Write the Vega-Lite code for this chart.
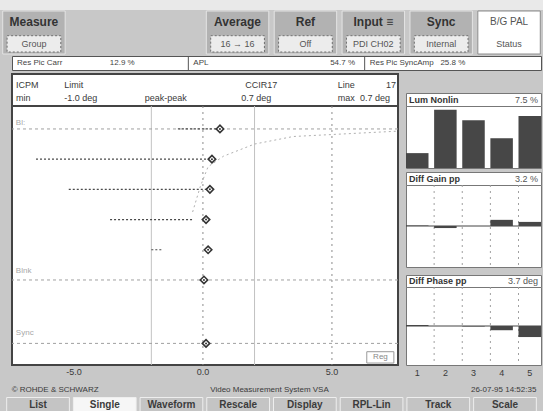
{
  "$schema": "https://vega.github.io/schema/vega-lite/v6.json",
  "background": "#c8c8c8",
  "padding": 0,
  "spacing": 0,
  "config": {"view": {"stroke": null}, "font": "Liberation Sans"},
  "vconcat": [
    {"width": 543, "height": 10, "view": {"fill": "#e9e9e9", "stroke": null}, "data": {"values": []}, "mark": "point"},
    {
      "width": 543, "height": 43,
      "data": {"values": [
        {"slot": "measure", "title": "Measure", "value": "Group"},
        {"slot": "average", "title": "Average", "value": "16 → 16"},
        {"slot": "ref", "title": "Ref", "value": "Off"},
        {"slot": "input", "title": "Input ≡", "value": "PDI CH02"},
        {"slot": "sync", "title": "Sync", "value": "Internal"},
        {"slot": "std", "title": "B/G PAL", "value": "Status"}
      ]},
      "layer": [
        {"transform": [{"filter": "datum.slot !== 'std'"}], "mark": {"type": "rect", "fill": "#b2b2b2", "stroke": "#e4e4e4", "strokeWidth": 1},
         "encoding": {"x": {"field": "slot", "type": "nominal", "scale": {"type": "band", "domain": ["measure", "g1", "g2", "average", "ref", "input", "sync", "std"], "paddingInner": 0.08, "paddingOuter": 0.04}, "axis": null}}},
        {"transform": [{"filter": "datum.slot === 'std'"}], "mark": {"type": "rect", "fill": "#ffffff", "stroke": "#8c8c8c", "strokeWidth": 1},
         "encoding": {"x": {"field": "slot", "type": "nominal", "scale": {"type": "band", "domain": ["measure", "g1", "g2", "average", "ref", "input", "sync", "std"], "paddingInner": 0.08, "paddingOuter": 0.04}, "axis": null}}},
        {"transform": [{"filter": "datum.slot !== 'std'"}], "mark": {"type": "rect", "fill": "#ececec", "stroke": "#707070", "strokeDash": [2, 2], "strokeWidth": 1, "width": {"band": 0.86}},
         "encoding": {"x": {"field": "slot", "type": "nominal", "scale": {"type": "band", "domain": ["measure", "g1", "g2", "average", "ref", "input", "sync", "std"], "paddingInner": 0.08, "paddingOuter": 0.04}, "axis": null},
                      "y": {"datum": "value", "type": "nominal", "scale": {"type": "band", "domain": ["title", "value"], "range": [3, 41], "paddingInner": 0.25, "paddingOuter": 0}, "axis": null}}},
        {"transform": [{"filter": "datum.slot !== 'std'"}], "mark": {"type": "text", "fontSize": 12, "fontWeight": "bold", "color": "#333333", "baseline": "middle"},
         "encoding": {"x": {"field": "slot", "type": "nominal", "scale": {"type": "band", "domain": ["measure", "g1", "g2", "average", "ref", "input", "sync", "std"], "paddingInner": 0.08, "paddingOuter": 0.04}, "axis": null},
                      "y": {"datum": "title", "type": "nominal", "scale": {"type": "band", "domain": ["title", "value"], "range": [3, 41], "paddingInner": 0.25, "paddingOuter": 0}, "axis": null},
                      "text": {"field": "title"}}},
        {"transform": [{"filter": "datum.slot === 'std'"}], "mark": {"type": "text", "fontSize": 10, "color": "#555555", "baseline": "middle"},
         "encoding": {"x": {"field": "slot", "type": "nominal", "scale": {"type": "band", "domain": ["measure", "g1", "g2", "average", "ref", "input", "sync", "std"], "paddingInner": 0.08, "paddingOuter": 0.04}, "axis": null},
                      "y": {"datum": "title", "type": "nominal", "scale": {"type": "band", "domain": ["title", "value"], "range": [3, 41], "paddingInner": 0.25, "paddingOuter": 0}, "axis": null},
                      "text": {"field": "title"}}},
        {"mark": {"type": "text", "fontSize": 9, "color": "#555555", "baseline": "middle"},
         "encoding": {"x": {"field": "slot", "type": "nominal", "scale": {"type": "band", "domain": ["measure", "g1", "g2", "average", "ref", "input", "sync", "std"], "paddingInner": 0.08, "paddingOuter": 0.04}, "axis": null},
                      "y": {"datum": "value", "type": "nominal", "scale": {"type": "band", "domain": ["title", "value"], "range": [3, 41], "paddingInner": 0.25, "paddingOuter": 0}, "axis": null},
                      "text": {"field": "value"}}}
      ]
    },
    {
      "hconcat": [
        {"width": 12, "height": 14, "data": {"values": []}, "mark": "point"},
        {
          "width": 529, "height": 14,
          "view": {"fill": "#ffffff", "stroke": "#555555", "strokeWidth": 1},
          "layer": [
            {"data": {"values": [{"slot": "s8"}, {"slot": "s16"}]}, "mark": {"type": "rule", "color": "#555555"},
             "encoding": {"x": {"field": "slot", "type": "nominal", "bandPosition": 0, "scale": {"type": "band", "domain": ["s0","s1","s2","s3","s4","s5","s6","s7","s8","s9","s10","s11","s12","s13","s14","s15","s16","s17","s18","s19","s20","s21","s22","s23"], "paddingInner": 0, "paddingOuter": 0}, "axis": null}}},
            {"data": {"values": [{"slot": "s0", "text": "Res Pic Carr"}, {"slot": "s8", "text": "APL"}, {"slot": "s16", "text": "Res Pic SyncAmp"}]},
             "mark": {"type": "text", "align": "left", "baseline": "middle", "fontSize": 8, "color": "#444444", "dx": 5},
             "encoding": {"x": {"field": "slot", "type": "nominal", "bandPosition": 0, "scale": {"type": "band", "domain": ["s0","s1","s2","s3","s4","s5","s6","s7","s8","s9","s10","s11","s12","s13","s14","s15","s16","s17","s18","s19","s20","s21","s22","s23"], "paddingInner": 0, "paddingOuter": 0}, "axis": null}, "text": {"field": "text"}}},
            {"data": {"values": [{"slot": "s5", "text": "12.9 %"}, {"slot": "s15", "text": "54.7 %"}, {"slot": "s20", "text": "25.8 %"}]},
             "mark": {"type": "text", "align": "center", "baseline": "middle", "fontSize": 8, "color": "#444444"},
             "encoding": {"x": {"field": "slot", "type": "nominal", "bandPosition": 0, "scale": {"type": "band", "domain": ["s0","s1","s2","s3","s4","s5","s6","s7","s8","s9","s10","s11","s12","s13","s14","s15","s16","s17","s18","s19","s20","s21","s22","s23"], "paddingInner": 0, "paddingOuter": 0}, "axis": null}, "text": {"field": "text"}}}
          ]
        }
      ],
      "spacing": 0,
      "bounds": "flush"
    },
    {"width": 543, "height": 2, "data": {"values": []}, "mark": "point"},
    {
      "hconcat": [
        {"width": 10, "height": 291, "data": {"values": []}, "mark": "point"},
        {
          "vconcat": [
            {
              "width": 386, "height": 32,
              "view": {"fill": "#ffffff", "stroke": "#444444", "strokeWidth": 2},
              "layer": [
                {"data": {"values": [
                  {"row": "r1", "slot": "s0", "text": "ICPM"},
                  {"row": "r1", "slot": "s3", "text": "Limit"},
                  {"row": "r1", "slot": "s20", "text": "Line"},
                  {"row": "r1", "slot": "s23", "text": "17"},
                  {"row": "r2", "slot": "s0", "text": "min"},
                  {"row": "r2", "slot": "s3", "text": "-1.0 deg"},
                  {"row": "r2", "slot": "s8", "text": "peak-peak"},
                  {"row": "r2", "slot": "s14", "text": "0.7 deg"},
                  {"row": "r2", "slot": "s20", "text": "max"}
                ]},
                 "mark": {"type": "text", "align": "left", "baseline": "middle", "fontSize": 9, "color": "#3a3a3a", "dx": 4},
                 "encoding": {
                   "x": {"field": "slot", "type": "nominal", "bandPosition": 0, "scale": {"type": "band", "domain": ["s0","s1","s2","s3","s4","s5","s6","s7","s8","s9","s10","s11","s12","s13","s14","s15","s16","s17","s18","s19","s20","s21","s22","s23"], "paddingInner": 0, "paddingOuter": 0}, "axis": null},
                   "y": {"field": "row", "type": "nominal", "scale": {"type": "band", "domain": ["r1", "r2"], "range": [4, 30], "paddingInner": 0, "paddingOuter": 0}, "axis": null},
                   "text": {"field": "text"}}},
                {"data": {"values": [
                  {"row": "r1", "slot": "s16", "text": "CCIR17"},
                  {"row": "r2", "slot": "s23", "text": "0.7 deg"}
                ]},
                 "mark": {"type": "text", "align": "right", "baseline": "middle", "fontSize": 9, "color": "#3a3a3a"},
                 "encoding": {
                   "x": {"field": "slot", "type": "nominal", "bandPosition": 0.5, "scale": {"type": "band", "domain": ["s0","s1","s2","s3","s4","s5","s6","s7","s8","s9","s10","s11","s12","s13","s14","s15","s16","s17","s18","s19","s20","s21","s22","s23"], "paddingInner": 0, "paddingOuter": 0}, "axis": null},
                   "y": {"field": "row", "type": "nominal", "scale": {"type": "band", "domain": ["r1", "r2"], "range": [4, 30], "paddingInner": 0, "paddingOuter": 0}, "axis": null},
                   "text": {"field": "text"}}}
              ]
            },
            {
              "width": 386, "height": 259,
              "view": {"fill": "#ffffff", "stroke": "#444444", "strokeWidth": 2},
              "layer": [
                {"data": {"values": [{"phase": -2}, {"phase": 2}]}, "mark": {"type": "rule", "color": "#c2c2c2", "strokeWidth": 1},
                 "encoding": {"x": {"field": "phase", "type": "quantitative", "scale": {"domain": [-7.4, 7.56], "nice": false, "zero": false}, "axis": null}}},
                {"data": {"values": [{"phase": 0}, {"phase": 5}]}, "mark": {"type": "rule", "color": "#8c8c8c", "strokeDash": [2, 4], "strokeWidth": 1},
                 "encoding": {"x": {"field": "phase", "type": "quantitative", "scale": {"domain": [-7.4, 7.56], "nice": false, "zero": false}, "axis": null}}},
                {"data": {"values": [{"level": 100}, {"level": 0}, {"level": -42}]}, "mark": {"type": "rule", "color": "#a0a0a0", "strokeDash": [3, 3], "strokeWidth": 1},
                 "encoding": {"y": {"field": "level", "type": "quantitative", "scale": {"domain": [-56.3, 115.2], "nice": false, "zero": false}, "axis": null}}},
                {"data": {"values": [
                  {"phase": -0.4, "level": 45}, {"phase": -0.1, "level": 62}, {"phase": 0.2, "level": 75},
                  {"phase": 0.8, "level": 82}, {"phase": 2.0, "level": 90}, {"phase": 3.5, "level": 95}, {"phase": 7.5, "level": 98.5}
                ]},
                 "mark": {"type": "line", "color": "#b0b0b0", "strokeDash": [2, 3], "strokeWidth": 1},
                 "encoding": {"x": {"field": "phase", "type": "quantitative", "scale": {"domain": [-7.4, 7.56], "nice": false, "zero": false}, "axis": null},
                              "y": {"field": "level", "type": "quantitative", "scale": {"domain": [-56.3, 115.2], "nice": false, "zero": false}, "axis": null}}},
                {"data": {"values": [
                  {"level": 100, "lo": -0.97, "hi": 0.62},
                  {"level": 80, "lo": -6.47, "hi": 0.3},
                  {"level": 60, "lo": -5.2, "hi": 0.2},
                  {"level": 40, "lo": -3.6, "hi": -0.4},
                  {"level": 20, "lo": -2.0, "hi": -1.6}
                ]},
                 "mark": {"type": "rule", "color": "#4a4a4a", "strokeDash": [2, 2], "strokeWidth": 1.2},
                 "encoding": {"x": {"field": "lo", "type": "quantitative", "scale": {"domain": [-7.4, 7.56], "nice": false, "zero": false}, "axis": null},
                              "x2": {"field": "hi"},
                              "y": {"field": "level", "type": "quantitative", "scale": {"domain": [-56.3, 115.2], "nice": false, "zero": false}, "axis": null}}},
                {"data": {"values": [
                  {"level": 100, "phase": 0.66}, {"level": 80, "phase": 0.35}, {"level": 60, "phase": 0.27},
                  {"level": 40, "phase": 0.12}, {"level": 20, "phase": 0.2}, {"level": 0, "phase": 0.04}, {"level": -42, "phase": 0.12}
                ]},
                 "mark": {"type": "point", "shape": "diamond", "size": 55, "fill": "#ffffff", "stroke": "#333333", "strokeWidth": 1.6, "opacity": 1, "filled": true},
                 "encoding": {"x": {"field": "phase", "type": "quantitative", "scale": {"domain": [-7.4, 7.56], "nice": false, "zero": false}, "axis": null},
                              "y": {"field": "level", "type": "quantitative", "scale": {"domain": [-56.3, 115.2], "nice": false, "zero": false}, "axis": null}}},
                {"data": {"values": [
                  {"level": 100, "phase": 0.66}, {"level": 80, "phase": 0.35}, {"level": 60, "phase": 0.27},
                  {"level": 40, "phase": 0.12}, {"level": 20, "phase": 0.2}, {"level": 0, "phase": 0.04}, {"level": -42, "phase": 0.12}
                ]},
                 "mark": {"type": "point", "shape": "circle", "size": 4, "filled": true, "color": "#333333", "opacity": 1},
                 "encoding": {"x": {"field": "phase", "type": "quantitative", "scale": {"domain": [-7.4, 7.56], "nice": false, "zero": false}, "axis": null},
                              "y": {"field": "level", "type": "quantitative", "scale": {"domain": [-56.3, 115.2], "nice": false, "zero": false}, "axis": null}}},
                {"data": {"values": [{"label": "Bl:", "level": 104}, {"label": "Blnk", "level": 6}, {"label": "Sync", "level": -35}]},
                 "mark": {"type": "text", "align": "left", "baseline": "middle", "fontSize": 8, "color": "#a8a8a8"},
                 "encoding": {"x": {"datum": -7.25, "type": "quantitative", "scale": {"domain": [-7.4, 7.56], "nice": false, "zero": false}, "axis": null},
                              "y": {"field": "level", "type": "quantitative", "scale": {"domain": [-56.3, 115.2], "nice": false, "zero": false}, "axis": null},
                              "text": {"field": "label"}}},
                {"data": {"values": [{"label": "Reg"}]},
                 "mark": {"type": "rect", "fill": "#ffffff", "stroke": "#9a9a9a", "strokeWidth": 1},
                 "encoding": {"x": {"datum": 6.35, "type": "quantitative", "scale": {"domain": [-7.4, 7.56], "nice": false, "zero": false}, "axis": null},
                              "x2": {"datum": 7.4},
                              "y": {"datum": -47.5, "type": "quantitative", "scale": {"domain": [-56.3, 115.2], "nice": false, "zero": false}, "axis": null},
                              "y2": {"datum": -55}}},
                {"data": {"values": [{"label": "Reg"}]},
                 "mark": {"type": "text", "align": "center", "baseline": "middle", "fontSize": 8, "color": "#888888"},
                 "encoding": {"x": {"datum": 6.88, "type": "quantitative", "scale": {"domain": [-7.4, 7.56], "nice": false, "zero": false}, "axis": null},
                              "y": {"datum": -51.3, "type": "quantitative", "scale": {"domain": [-56.3, 115.2], "nice": false, "zero": false}, "axis": null},
                              "text": {"field": "label"}}},
                {"data": {"values": [{"phase": -5, "label": "-5.0"}, {"phase": 0, "label": "0.0"}, {"phase": 5, "label": "5.0"}]},
                 "mark": {"type": "text", "align": "center", "baseline": "middle", "fontSize": 9, "color": "#3a3a3a"},
                 "encoding": {"x": {"field": "phase", "type": "quantitative", "scale": {"domain": [-7.4, 7.56], "nice": false, "zero": false}, "axis": null},
                              "y": {"datum": -61.2, "type": "quantitative", "scale": {"domain": [-56.3, 115.2], "nice": false, "zero": false}, "axis": null},
                              "text": {"field": "label"}}}
              ]
            }
          ],
          "spacing": 0,
          "bounds": "flush"
        },
        {"width": 5, "height": 291, "data": {"values": []}, "mark": "point"},
        {
          "vconcat": [
            {"width": 135, "height": 19, "data": {"values": []}, "mark": "point"},
            {
              "width": 135, "height": 13,
              "view": {"fill": "#ffffff", "stroke": "#777777", "strokeWidth": 1},
              "layer": [
                {"data": {"values": [{"side": "l", "text": "Lum Nonlin"}]}, "mark": {"type": "text", "align": "left", "baseline": "middle", "fontSize": 9, "fontWeight": "bold", "color": "#333333"},
                 "encoding": {"x": {"field": "side", "type": "nominal", "bandPosition": 0, "scale": {"type": "band", "domain": ["l", "r"], "range": [3, 132], "paddingInner": 0, "paddingOuter": 0}, "axis": null}, "text": {"field": "text"}}},
                {"data": {"values": [{"side": "r", "text": "7.5 %"}]}, "mark": {"type": "text", "align": "right", "baseline": "middle", "fontSize": 9, "color": "#555555"},
                 "encoding": {"x": {"field": "side", "type": "nominal", "bandPosition": 1, "scale": {"type": "band", "domain": ["l", "r"], "range": [3, 132], "paddingInner": 0, "paddingOuter": 0}, "axis": null}, "text": {"field": "text"}}}
              ]
            },
            {
              "width": 135, "height": 62,
              "view": {"fill": "#ffffff", "stroke": "#777777", "strokeWidth": 1},
              "data": {"values": [{"step": "1", "value": 24}, {"step": "2", "value": 94}, {"step": "3", "value": 77}, {"step": "4", "value": 48}, {"step": "5", "value": 84}]},
              "mark": {"type": "bar", "color": "#474747"},
              "encoding": {
                "x": {"field": "step", "type": "ordinal", "scale": {"type": "band", "domain": ["1", "2", "3", "4", "5"], "paddingInner": 0.2, "paddingOuter": 0}, "axis": null},
                "y": {"field": "value", "type": "quantitative", "scale": {"domain": [0, 100], "nice": false}, "axis": null}
              }
            },
            {"width": 135, "height": 4, "data": {"values": []}, "mark": "point"},
            {
              "width": 135, "height": 13,
              "view": {"fill": "#ffffff", "stroke": "#777777", "strokeWidth": 1},
              "layer": [
                {"data": {"values": [{"side": "l", "text": "Diff Gain pp"}]}, "mark": {"type": "text", "align": "left", "baseline": "middle", "fontSize": 9, "fontWeight": "bold", "color": "#333333"},
                 "encoding": {"x": {"field": "side", "type": "nominal", "bandPosition": 0, "scale": {"type": "band", "domain": ["l", "r"], "range": [3, 132], "paddingInner": 0, "paddingOuter": 0}, "axis": null}, "text": {"field": "text"}}},
                {"data": {"values": [{"side": "r", "text": "3.2 %"}]}, "mark": {"type": "text", "align": "right", "baseline": "middle", "fontSize": 9, "color": "#555555"},
                 "encoding": {"x": {"field": "side", "type": "nominal", "bandPosition": 1, "scale": {"type": "band", "domain": ["l", "r"], "range": [3, 132], "paddingInner": 0, "paddingOuter": 0}, "axis": null}, "text": {"field": "text"}}}
              ]
            },
            {
              "width": 135, "height": 82,
              "view": {"fill": "#ffffff", "stroke": "#777777", "strokeWidth": 1},
              "layer": [
                {"data": {"values": [{"step": "2"}, {"step": "3"}, {"step": "4"}, {"step": "5"}]}, "mark": {"type": "rule", "color": "#a0a0a0", "strokeDash": [2, 4]},
                 "encoding": {"x": {"field": "step", "type": "ordinal", "bandPosition": 0, "scale": {"type": "band", "domain": ["1", "2", "3", "4", "5"], "paddingInner": 0.2, "paddingOuter": 0}, "axis": null}}},
                {"data": {"values": [{"v": 0}]}, "mark": {"type": "rule", "color": "#444444", "strokeWidth": 1},
                 "encoding": {"y": {"field": "v", "type": "quantitative", "scale": {"domain": [-16, 16], "nice": false}, "axis": null}}},
                {"data": {"values": [{"step": "1", "value": 0.2}, {"step": "2", "value": -0.8}, {"step": "3", "value": 0}, {"step": "4", "value": 2.4}, {"step": "5", "value": 1.6}]},
                 "mark": {"type": "bar", "color": "#474747"},
                 "encoding": {"x": {"field": "step", "type": "ordinal", "scale": {"type": "band", "domain": ["1", "2", "3", "4", "5"], "paddingInner": 0.2, "paddingOuter": 0}, "axis": null},
                              "y": {"field": "value", "type": "quantitative", "scale": {"domain": [-16, 16], "nice": false}, "axis": null}}}
              ]
            },
            {"width": 135, "height": 8, "data": {"values": []}, "mark": "point"},
            {
              "width": 135, "height": 12,
              "view": {"fill": "#ffffff", "stroke": "#777777", "strokeWidth": 1},
              "layer": [
                {"data": {"values": [{"side": "l", "text": "Diff Phase pp"}]}, "mark": {"type": "text", "align": "left", "baseline": "middle", "fontSize": 9, "fontWeight": "bold", "color": "#333333"},
                 "encoding": {"x": {"field": "side", "type": "nominal", "bandPosition": 0, "scale": {"type": "band", "domain": ["l", "r"], "range": [3, 132], "paddingInner": 0, "paddingOuter": 0}, "axis": null}, "text": {"field": "text"}}},
                {"data": {"values": [{"side": "r", "text": "3.7 deg"}]}, "mark": {"type": "text", "align": "right", "baseline": "middle", "fontSize": 9, "color": "#555555"},
                 "encoding": {"x": {"field": "side", "type": "nominal", "bandPosition": 1, "scale": {"type": "band", "domain": ["l", "r"], "range": [3, 132], "paddingInner": 0, "paddingOuter": 0}, "axis": null}, "text": {"field": "text"}}}
              ]
            },
            {
              "width": 135, "height": 78,
              "view": {"fill": "#ffffff", "stroke": "#777777", "strokeWidth": 1},
              "layer": [
                {"data": {"values": [{"step": "2"}, {"step": "3"}, {"step": "4"}, {"step": "5"}]}, "mark": {"type": "rule", "color": "#a0a0a0", "strokeDash": [2, 4]},
                 "encoding": {"x": {"field": "step", "type": "ordinal", "bandPosition": 0, "scale": {"type": "band", "domain": ["1", "2", "3", "4", "5"], "paddingInner": 0.2, "paddingOuter": 0}, "axis": null}}},
                {"data": {"values": [{"v": 0}]}, "mark": {"type": "rule", "color": "#444444", "strokeWidth": 1},
                 "encoding": {"y": {"field": "v", "type": "quantitative", "scale": {"domain": [-12, 12], "nice": false}, "axis": null}}},
                {"data": {"values": [{"step": "1", "value": 0.3}, {"step": "2", "value": 0}, {"step": "3", "value": -0.15}, {"step": "4", "value": -1.3}, {"step": "5", "value": -3.4}]},
                 "mark": {"type": "bar", "color": "#474747"},
                 "encoding": {"x": {"field": "step", "type": "ordinal", "scale": {"type": "band", "domain": ["1", "2", "3", "4", "5"], "paddingInner": 0.2, "paddingOuter": 0}, "axis": null},
                              "y": {"field": "value", "type": "quantitative", "scale": {"domain": [-12, 12], "nice": false}, "axis": null}}},
                {"data": {"values": [{"step": "1"}, {"step": "2"}, {"step": "3"}, {"step": "4"}, {"step": "5"}]},
                 "mark": {"type": "text", "align": "center", "baseline": "middle", "fontSize": 9, "color": "#3a3a3a"},
                 "encoding": {"x": {"field": "step", "type": "ordinal", "scale": {"type": "band", "domain": ["1", "2", "3", "4", "5"], "paddingInner": 0.2, "paddingOuter": 0}, "axis": null},
                              "y": {"datum": -14.5, "type": "quantitative", "scale": {"domain": [-12, 12], "nice": false}, "axis": null},
                              "text": {"field": "step"}}}
              ]
            }
          ],
          "spacing": 0,
          "bounds": "flush"
        }
      ],
      "spacing": 0
    },
    {
      "width": 543, "height": 34,
      "layer": [
        {"data": {"values": [{"name": "List"}, {"name": "Single"}, {"name": "Waveform"}, {"name": "Rescale"}, {"name": "Display"}, {"name": "RPL-Lin"}, {"name": "Track"}, {"name": "Scale"}]},
         "mark": {"type": "rect", "stroke": "#eeeeee", "strokeWidth": 1},
         "encoding": {"x": {"field": "name", "type": "nominal", "scale": {"type": "band", "domain": ["List", "Single", "Waveform", "Rescale", "Display", "RPL-Lin", "Track", "Scale"], "paddingInner": 0.06, "paddingOuter": 0.1}, "axis": null},
                      "y": {"datum": "buttons", "type": "nominal", "scale": {"type": "band", "domain": ["info", "buttons"], "range": [3, 34], "paddingInner": 0, "paddingOuter": 0}, "axis": null},
                      "fill": {"condition": {"test": "datum.name === 'Single'", "value": "#f6f6f6"}, "value": "#c4c4c4"}}},
        {"data": {"values": [{"name": "List"}, {"name": "Single"}, {"name": "Waveform"}, {"name": "Rescale"}, {"name": "Display"}, {"name": "RPL-Lin"}, {"name": "Track"}, {"name": "Scale"}]},
         "mark": {"type": "text", "fontSize": 10, "fontWeight": "bold", "color": "#3c3c3c", "baseline": "middle"},
         "encoding": {"x": {"field": "name", "type": "nominal", "scale": {"type": "band", "domain": ["List", "Single", "Waveform", "Rescale", "Display", "RPL-Lin", "Track", "Scale"], "paddingInner": 0.06, "paddingOuter": 0.1}, "axis": null},
                      "y": {"datum": "buttons", "type": "nominal", "scale": {"type": "band", "domain": ["info", "buttons"], "range": [3, 34], "paddingInner": 0, "paddingOuter": 0}, "axis": null},
                      "text": {"field": "name"}}},
        {"data": {"values": [{"name": "List", "text": "© ROHDE & SCHWARZ"}]},
         "mark": {"type": "text", "align": "left", "fontSize": 8, "color": "#3a3a3a", "baseline": "middle", "dx": 5},
         "encoding": {"x": {"field": "name", "type": "nominal", "bandPosition": 0, "scale": {"type": "band", "domain": ["List", "Single", "Waveform", "Rescale", "Display", "RPL-Lin", "Track", "Scale"], "paddingInner": 0.06, "paddingOuter": 0.1}, "axis": null},
                      "y": {"datum": "info", "type": "nominal", "scale": {"type": "band", "domain": ["info", "buttons"], "range": [3, 34], "paddingInner": 0, "paddingOuter": 0}, "axis": null},
                      "text": {"field": "text"}}},
        {"data": {"values": [{"name": "Rescale", "text": "Video Measurement System VSA"}]},
         "mark": {"type": "text", "align": "center", "fontSize": 8, "color": "#3a3a3a", "baseline": "middle"},
         "encoding": {"x": {"field": "name", "type": "nominal", "bandPosition": 1, "scale": {"type": "band", "domain": ["List", "Single", "Waveform", "Rescale", "Display", "RPL-Lin", "Track", "Scale"], "paddingInner": 0.06, "paddingOuter": 0.1}, "axis": null},
                      "y": {"datum": "info", "type": "nominal", "scale": {"type": "band", "domain": ["info", "buttons"], "range": [3, 34], "paddingInner": 0, "paddingOuter": 0}, "axis": null},
                      "text": {"field": "text"}}},
        {"data": {"values": [{"name": "Scale", "text": "26-07-95 14:52:35"}]},
         "mark": {"type": "text", "align": "right", "fontSize": 8, "color": "#3a3a3a", "baseline": "middle"},
         "encoding": {"x": {"field": "name", "type": "nominal", "bandPosition": 1, "scale": {"type": "band", "domain": ["List", "Single", "Waveform", "Rescale", "Display", "RPL-Lin", "Track", "Scale"], "paddingInner": 0.06, "paddingOuter": 0.1}, "axis": null},
                      "y": {"datum": "info", "type": "nominal", "scale": {"type": "band", "domain": ["info", "buttons"], "range": [3, 34], "paddingInner": 0, "paddingOuter": 0}, "axis": null},
                      "text": {"field": "text"}}}
      ]
    }
  ]
}
